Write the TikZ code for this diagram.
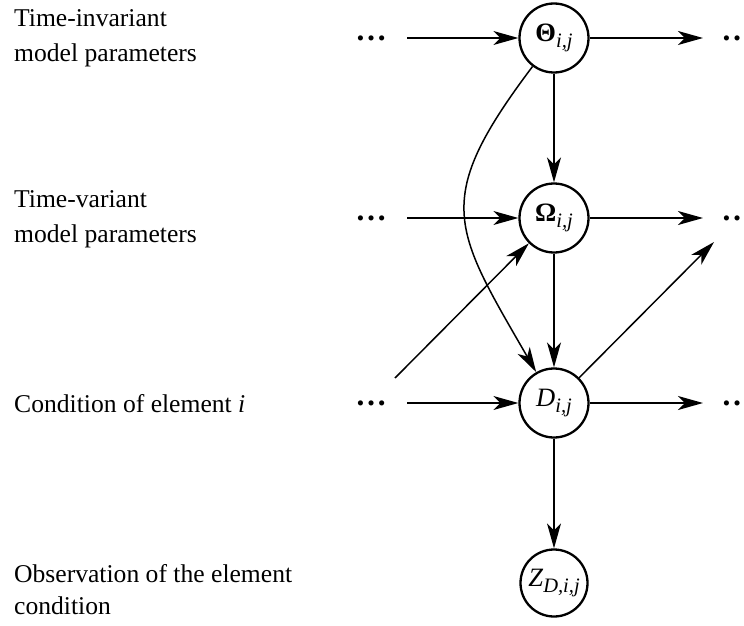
\documentclass[tikz,border=0pt]{standalone}
\usepackage{fontspec}
\setmainfont{Liberation Serif}
\usetikzlibrary{arrows.meta}
% subscript of a variable name: italic, a little smaller and lowered
\newcommand{\varsub}[1]{\raisebox{-6.5pt}{\fontsize{20.5}{20.5}\selectfont\itshape #1}}
\begin{document}
\begin{tikzpicture}[x=1pt,y=-1pt,
  var/.style={circle, draw, line width=2.3pt, minimum size=69pt, inner sep=0pt,
    font=\fontsize{26.5}{30}\selectfont},
  link/.style={line width=1.5pt, -{Stealth[length=25pt,width=14pt,inset=7pt]}},
  rowtext/.style={anchor=base west, align=left, inner sep=0pt,
    font=\fontsize{25.6}{35}\selectfont},
  dots/.style={anchor=base, inner sep=0pt, font=\fontsize{31.5}{36}\selectfont\bfseries}
]
\useasboundingbox (0,0) rectangle (744,626);

% row labels (base anchor sits on the last line)
\node[rowtext] (l1) at (14,62) {Time-invariant\\model parameters};
\node[rowtext] (l2) at (14,242) {Time-variant\\model parameters};
\node[rowtext] (l3) at (14,412) {Condition of element \textit{i}};
\node[rowtext, font=\fontsize{25.6}{32}\selectfont] (l4) at (14,614) {Observation of the element\\condition};

% random variables
\node[var] (T) at (554,38)  {{\bfseries Θ}\varsub{i,j}};
\node[var] (O) at (554,218) {{\bfseries Ω}\varsub{i,j}};
\node[var] (D) at (554,403) {\textit{D}\varsub{i,j}};
\node[var, minimum size=67pt] (Z) at (554,583) {\textit{Z}\varsub{D,i,j}};

% previous / next time steps
\node[dots] (pT) at (371,40.5)  {…};
\node[dots] (pO) at (371,220.5) {…};
\node[dots] (pD) at (371,405.5) {…};
\node[dots] (nT) at (737,40.5)  {…};
\node[dots] (nO) at (737,220.5) {…};
\node[dots] (nD) at (737,405.5) {…};

\coordinate (inT) at (407,38);
\coordinate (inO) at (407,218);
\coordinate (inD) at (407,403);
\coordinate (outT) at (703,38);
\coordinate (outO) at (703,218);
\coordinate (outD) at (703,403);
\coordinate (inDiag) at (395,378);
\coordinate (outDiag) at (714,242);

% connectors
\draw[link] (inT) -- (T);
\draw[link] (T) -- (outT);
\draw[link] (inO) -- (O);
\draw[link] (O) -- (outO);
\draw[link] (inD) -- (D);
\draw[link] (D) -- (outD);
\draw[link] (T) -- (O);
\draw[link] (O) -- (D);
\draw[link] (D) -- (Z);
\draw[link] (inDiag) -- (O);
\draw[link] (D) -- (outDiag);
\draw[link] (T) to[out=233,in=120,looseness=1.4] (D);
\end{tikzpicture}
\end{document}
